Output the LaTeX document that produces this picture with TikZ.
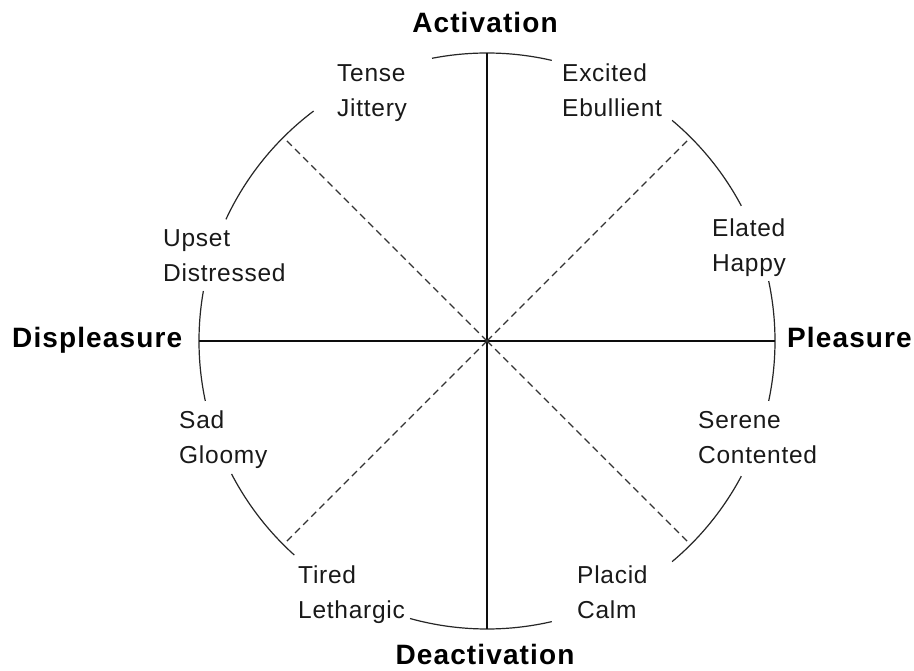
\documentclass[tikz,border=0pt]{standalone}
\usepackage{fontspec}
\setmainfont{Liberation Sans}
\newfontfamily\lblfont[LetterSpace=3]{Liberation Sans}
\newfontfamily\polefont[LetterSpace=4]{Liberation Sans Bold}
\begin{document}
\begin{tikzpicture}[x=1pt,y=1pt,
  rim/.style={line width=1.2pt, draw=black!85},
  axisline/.style={line width=1.3pt, draw=black!95},
  diag/.style={line width=1.4pt, draw=black!80, dash pattern=on 7pt off 4.5pt},
  mood/.style={inner sep=0pt, anchor=base west, align=left,
    font=\lblfont\fontsize{24.5}{35}\selectfont, text=black!90},
  pole/.style={inner sep=0pt, font=\polefont\fontsize{28}{32}\selectfont, text=black}]
\useasboundingbox (0,-671) rectangle (914,0);
\fill[white] (0,-671) rectangle (914,0);

% centre of the circumplex and its radius
\def\R{288}
\coordinate (O) at (487,-341);

% circle, broken where the mood labels sit
\foreach \a/\b in {77/101, 127/155, 170/192, 207.5/228,
                   254.5/283, 310/332, 348/372, 28/50}
  \draw[rim] ([shift={(\a:\R)}]O) arc[start angle=\a, end angle=\b, radius=\R];

% axes
\coordinate (N) at ([shift={(90:\R)}]O);
\coordinate (S) at ([shift={(270:\R)}]O);
\coordinate (W) at ([shift={(180:\R)}]O);
\coordinate (E) at ([shift={(0:\R)}]O);
\draw[axisline] (N) -- (S);
\draw[axisline] (W) -- (E);

% diagonals
\foreach \n/\a in {NE/45, NW/135, SW/225, SE/315} {
  \coordinate (\n) at ([shift={(\a:285)}]O);
  \draw[diag] (O) -- (\n);
}

% pole labels
\node[pole, anchor=base] (act) at (485,-33) {Activation};
\node[pole, anchor=base] (deact) at (485,-664) {Deactivation};
\node[pole, anchor=base west] (displ) at (12,-348) {Displeasure};
\node[pole, anchor=base west] (pleas) at (787,-348) {Pleasure};

% mood labels (anchored at the baseline of the second line)
\node[mood] (tense)   at (337,-117) {Tense\\Jittery};
\node[mood] (excited) at (562,-117) {Excited\\Ebullient};
\node[mood] (upset)   at (163,-282) {Upset\\Distressed};
\node[mood] (elated)  at (712,-272) {Elated\\Happy};
\node[mood] (sad)     at (179,-463) {Sad\\Gloomy};
\node[mood] (serene)  at (698,-463) {Serene\\Contented};
\node[mood] (tired)   at (298,-618) {Tired\\Lethargic};
\node[mood] (placid)  at (577,-618) {Placid\\Calm};
\end{tikzpicture}
\end{document}
